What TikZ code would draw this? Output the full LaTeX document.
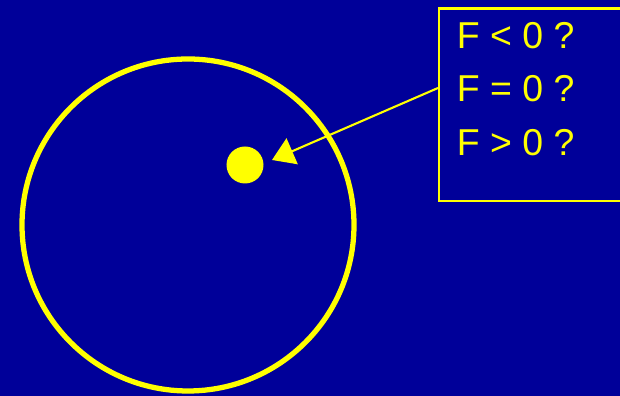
\documentclass[tikz,border=0pt]{standalone}
\usepackage{fontspec}
\setmainfont{Liberation Sans}
\usepackage{tikz}
\usetikzlibrary{arrows.meta}
\definecolor{SlideBlue}{HTML}{000099}
\definecolor{SlideYellow}{HTML}{FFFF00}

\begin{document}
\begin{tikzpicture}[x=1cm,y=1cm,
  quizline/.style={anchor=base west,inner sep=0pt,text=SlideYellow,
    font=\fontsize{21.3}{25}\selectfont}]
\path[use as bounding box] (0,0) rectangle (12.40,7.92);
\clip (0,0) rectangle (12.40,7.92);
\fill[SlideBlue] (0,0) rectangle (12.40,7.92);
% ball and the small body
\node[draw=SlideYellow,line width=3pt,circle,minimum size=6.64cm,inner sep=0pt] (ball) at (3.76,3.42) {};
\node[fill=SlideYellow,circle,minimum size=0.74cm,inner sep=0pt] (body) at (4.90,4.62) {};
% question box
\node[draw=SlideYellow,line width=1.3pt,anchor=north west,minimum width=4.00cm,minimum height=3.85cm,inner sep=0pt] (quiz) at (8.76,7.77) {};
\node[quizline] (lt) at (9.13,6.94) {F < 0 ?};
\node[quizline] (eq) at (9.13,5.88) {F = 0 ?};
\node[quizline] (gt) at (9.13,4.80) {F > 0 ?};
\coordinate (src) at (8.76,6.16);
\coordinate (tip) at (5.44,4.72);
\draw[SlideYellow,line width=1.2pt,-{Triangle[length=4.4mm,width=5.6mm]}] (src) -- (tip);
\end{tikzpicture}
\end{document}
